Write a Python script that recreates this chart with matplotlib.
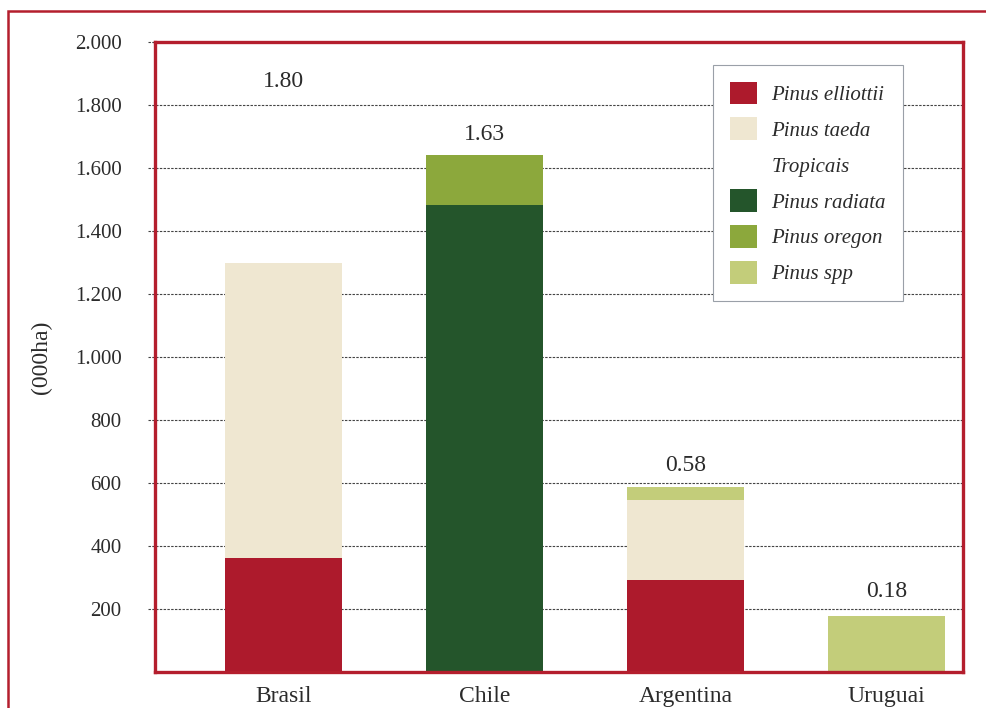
import numpy as np
import matplotlib
matplotlib.use('Agg')
import matplotlib.pyplot as plt
from matplotlib.patches import Patch, Rectangle

# Data (000 ha)
countries = ['Brasil', 'Chile', 'Argentina', 'Uruguai']
species = ['Pinus elliottii', 'Pinus taeda', 'Tropicais',
           'Pinus radiata', 'Pinus oregon', 'Pinus spp']
elliottii = [362, 0, 292, 0]
taeda = [936, 0, 254, 0]
tropicais = [0, 0, 0, 0]
radiata = [0, 1483, 0, 0]
oregon = [0, 158, 0, 0]
spp = [0, 0, 41, 178]
totals_label = [1.80, 1.63, 0.58, 0.18]   # million ha, as printed
yticks = [200, 400, 600, 800, 1000, 1200, 1400, 1600, 1800, 2000]

colors = {
    'Pinus elliottii': '#ad1a2c',
    'Pinus taeda': '#efe7d1',
    'Tropicais': 'none',
    'Pinus radiata': '#24552b',
    'Pinus oregon': '#8ca83c',
    'Pinus spp': '#c3cd7a',
}
frame_red = '#b41e2d'
text_col = '#2b2b2b'

plt.rcParams['font.family'] = ['Liberation Serif', 'DejaVu Serif']

fig = plt.figure(figsize=(9.86, 7.08), dpi=100)
ax = fig.add_axes([155 / 986, 36 / 708, 808 / 986, 630 / 708])

x = np.arange(len(countries))
width = 0.58
bottom = np.zeros(len(countries))
series = [elliottii, taeda, tropicais, radiata, oregon, spp]
for name, vals in zip(species, series):
    vals = np.array(vals, dtype=float)
    if colors[name] != 'none':
        ax.bar(x, vals, width, bottom=bottom, color=colors[name],
               edgecolor='none', zorder=3)
    bottom += vals

# value labels above bars
for xi, lab in zip(x, totals_label):
    ax.text(xi, lab * 1000 + 75, f'{lab:.2f}', ha='center', va='center',
            fontsize=17, color=text_col, zorder=4)

# dashed grid, sticking out a little left of the frame
ax.hlines(yticks, -0.009, 1, transform=ax.get_yaxis_transform(),
          colors='#444444', linestyles=(0, (2.2, 1.2)), linewidth=0.8,
          clip_on=False, zorder=1)

ax.set_xlim(-0.64, 3.38)
ax.set_ylim(0, 2000)
ax.set_xticks(x)
ax.set_xticklabels(countries, fontsize=17, color=text_col)
ax.set_yticks(yticks)
ax.set_yticklabels([f'{v:,}'.replace(',', '.') for v in yticks],
                   fontsize=15, color=text_col)
ax.tick_params(axis='y', length=0, pad=24)
ax.tick_params(axis='x', length=0, pad=10)
ax.set_ylabel('(000ha)', fontsize=17, color=text_col)
ax.yaxis.set_label_coords(-0.128, 0.5)

for sp in ax.spines.values():
    sp.set_color(frame_red)
    sp.set_linewidth(2.4)
    sp.set_zorder(5)

handles = [Patch(facecolor=colors[n], edgecolor='none') for n in species]
leg = ax.legend(handles, species, loc='upper left',
                bbox_to_anchor=(713 / 986, 1 - 65 / 708),
                bbox_transform=fig.transFigure,
                prop={'style': 'italic', 'size': 15}, frameon=True,
                framealpha=1, fancybox=False, borderaxespad=0,
                handlelength=1.3, handleheight=1.3, labelspacing=0.6,
                handletextpad=0.7, borderpad=0.8)
leg.set_zorder(6)
leg.get_frame().set_edgecolor('#9aa0a8')
leg.get_frame().set_linewidth(0.8)
for t in leg.get_texts():
    t.set_color(text_col)

# outer page frame
fig.add_artist(Rectangle((8 / 986, -0.2), 1.3, 0.2 + 1 - 11 / 708,
                         transform=fig.transFigure, fill=False,
                         edgecolor=frame_red, linewidth=1.8))

fig.savefig('out.png', dpi=100)
